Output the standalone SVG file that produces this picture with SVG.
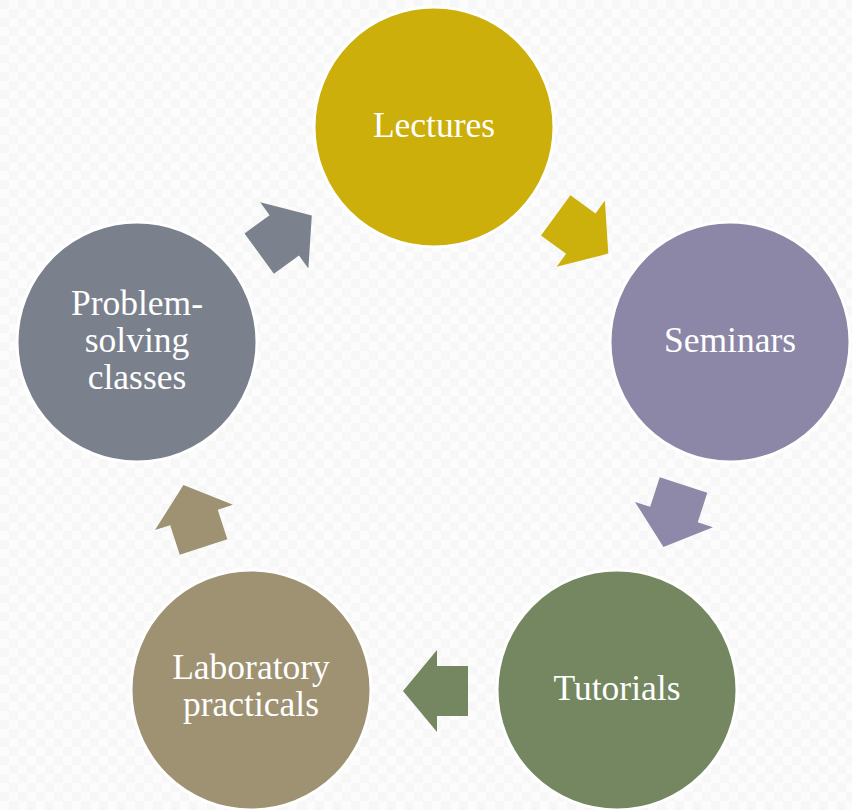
<svg xmlns="http://www.w3.org/2000/svg" width="852" height="810" viewBox="0 0 852 810">
  <defs>
    <pattern id="bg" width="18" height="18" patternUnits="userSpaceOnUse">
      <rect width="18" height="18" fill="#fcfcfc"/>
      <rect width="9" height="9" fill="#f7f7f7"/>
      <rect x="9" y="9" width="9" height="9" fill="#f7f7f7"/>
    </pattern>
    <path id="arrow" d="M-32.5,-25 L-1.5,-25 L-1.5,-41 L32.5,0 L-1.5,41 L-1.5,25 L-32.5,25 Z"/>
  </defs>
  <style>
    .node circle { stroke: #ffffff; stroke-width: 3; }
    .node text { fill: #ffffff; font-family: "Liberation Serif", "DejaVu Serif", serif; font-size: 35.5px; text-anchor: middle; }
  </style>
  <rect width="852" height="810" fill="url(#bg)"/>
  <g id="connectors">
    <use href="#arrow" fill="#ccb00c" transform="translate(582,234.5) rotate(36)"/>
    <use href="#arrow" fill="#8e89a8" transform="translate(673.5,516) rotate(108)"/>
    <use href="#arrow" fill="#748760" transform="translate(435.5,691) rotate(180)"/>
    <use href="#arrow" fill="#9e9272" transform="translate(193.5,516) rotate(-108)"/>
    <use href="#arrow" fill="#7b828d" transform="translate(285.5,234.5) rotate(-36)"/>
  </g>
  <g id="lectures" class="node">
    <circle cx="434" cy="127" r="120" fill="#ccaf0a"/>
    <text x="434" y="137">Lectures</text>
  </g>
  <g id="seminars" class="node">
    <circle cx="730" cy="342" r="120" fill="#8c87a6"/>
    <text x="730" y="352">Seminars</text>
  </g>
  <g id="tutorials" class="node">
    <circle cx="617" cy="690" r="120" fill="#748760"/>
    <text x="617" y="700">Tutorials</text>
  </g>
  <g id="laboratory" class="node">
    <circle cx="251" cy="690" r="120" fill="#9e9272"/>
    <text x="251" y="679">Laboratory</text>
    <text x="251" y="716">practicals</text>
  </g>
  <g id="problem-solving" class="node">
    <circle cx="137" cy="342" r="120" fill="#7b818c"/>
    <text x="137" y="315">Problem-</text>
    <text x="137" y="352">solving</text>
    <text x="137" y="389">classes</text>
  </g>
</svg>
